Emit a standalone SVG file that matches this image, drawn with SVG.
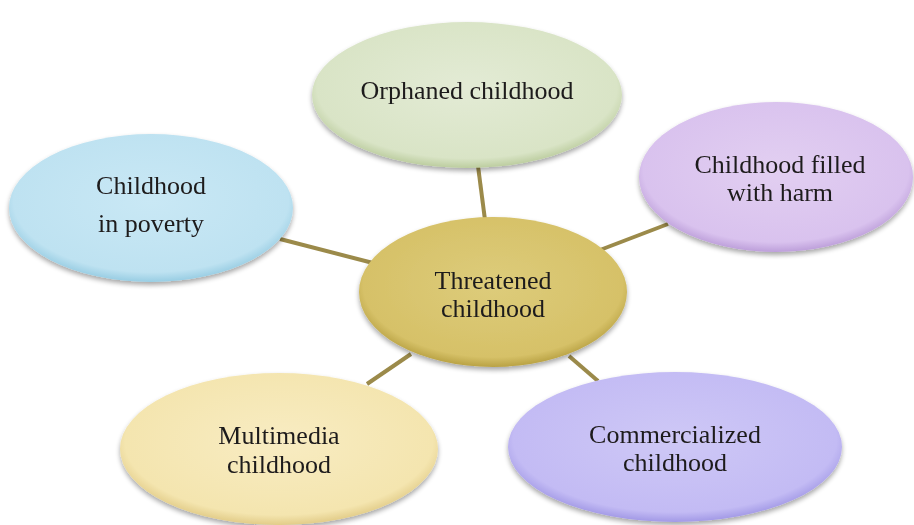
<svg xmlns="http://www.w3.org/2000/svg" width="914" height="525" viewBox="0 0 914 525">
<style>
.lbl{font-family:"Liberation Serif","Times New Roman",serif;font-size:26px;fill:#1f1b1c;text-anchor:middle}
.conn{stroke:#9b8a4a;stroke-width:4;fill:none}
.node{filter:url(#sh)}
</style>
<defs>
<filter id="sh" x="-10%" y="-10%" width="120%" height="130%">
<feGaussianBlur in="SourceAlpha" stdDeviation="2.5"/>
<feOffset dx="0" dy="3" result="b"/>
<feComponentTransfer><feFuncA type="linear" slope="0.35"/></feComponentTransfer>
<feMerge><feMergeNode/><feMergeNode in="SourceGraphic"/></feMerge>
</filter>
<radialGradient id="gGreen" cx="50%" cy="45%" r="55%"><stop offset="0" stop-color="#e3ebd5"/><stop offset="0.88" stop-color="#d9e4c6"/><stop offset="1" stop-color="#bccd9f"/></radialGradient>
<radialGradient id="gBlue" cx="50%" cy="45%" r="55%"><stop offset="0" stop-color="#c9e8f5"/><stop offset="0.88" stop-color="#bee2f1"/><stop offset="1" stop-color="#98cde3"/></radialGradient>
<radialGradient id="gPurple" cx="50%" cy="45%" r="55%"><stop offset="0" stop-color="#e2cff1"/><stop offset="0.88" stop-color="#d9c2ee"/><stop offset="1" stop-color="#bd9fda"/></radialGradient>
<radialGradient id="gGold" cx="50%" cy="45%" r="55%"><stop offset="0" stop-color="#ddcc7b"/><stop offset="0.88" stop-color="#d6c168"/><stop offset="1" stop-color="#b9a244"/></radialGradient>
<radialGradient id="gYellow" cx="50%" cy="45%" r="55%"><stop offset="0" stop-color="#f8ecc2"/><stop offset="0.88" stop-color="#f4e5af"/><stop offset="1" stop-color="#e2cc88"/></radialGradient>
<radialGradient id="gViolet" cx="50%" cy="45%" r="55%"><stop offset="0" stop-color="#cec8f6"/><stop offset="0.88" stop-color="#c3bbf4"/><stop offset="1" stop-color="#a299e6"/></radialGradient>
</defs>
<rect width="914" height="525" fill="#ffffff"/>
<g id="connectors">
<line class="conn" x1="478" y1="166" x2="485" y2="220"/>
<line class="conn" x1="280" y1="239" x2="373" y2="263"/>
<line class="conn" x1="668" y1="224" x2="600" y2="250"/>
<line class="conn" x1="367" y1="384" x2="411" y2="354"/>
<line class="conn" x1="569" y1="356" x2="598" y2="381"/>
</g>
<g id="n-orphaned" class="node">
<ellipse cx="467" cy="95" rx="155" ry="73" fill="url(#gGreen)"/>
<text class="lbl" x="467" y="99">Orphaned childhood</text>
</g>
<g id="n-poverty" class="node">
<ellipse cx="151" cy="208" rx="142" ry="74" fill="url(#gBlue)"/>
<text class="lbl" x="151" y="194">Childhood</text>
<text class="lbl" x="151" y="232">in poverty</text>
</g>
<g id="n-harm" class="node">
<ellipse cx="776" cy="177" rx="137" ry="75" fill="url(#gPurple)"/>
<text class="lbl" x="780" y="173">Childhood filled</text>
<text class="lbl" x="780" y="201">with harm</text>
</g>
<g id="n-center" class="node">
<ellipse cx="493" cy="292" rx="134" ry="75" fill="url(#gGold)"/>
<text class="lbl" x="493" y="289">Threatened</text>
<text class="lbl" x="493" y="317">childhood</text>
</g>
<g id="n-multimedia" class="node">
<ellipse cx="279" cy="449" rx="159" ry="76" fill="url(#gYellow)"/>
<text class="lbl" x="279" y="444">Multimedia</text>
<text class="lbl" x="279" y="473">childhood</text>
</g>
<g id="n-commercial" class="node">
<ellipse cx="675" cy="447" rx="167" ry="75" fill="url(#gViolet)"/>
<text class="lbl" x="675" y="443">Commercialized</text>
<text class="lbl" x="675" y="471">childhood</text>
</g>
</svg>
